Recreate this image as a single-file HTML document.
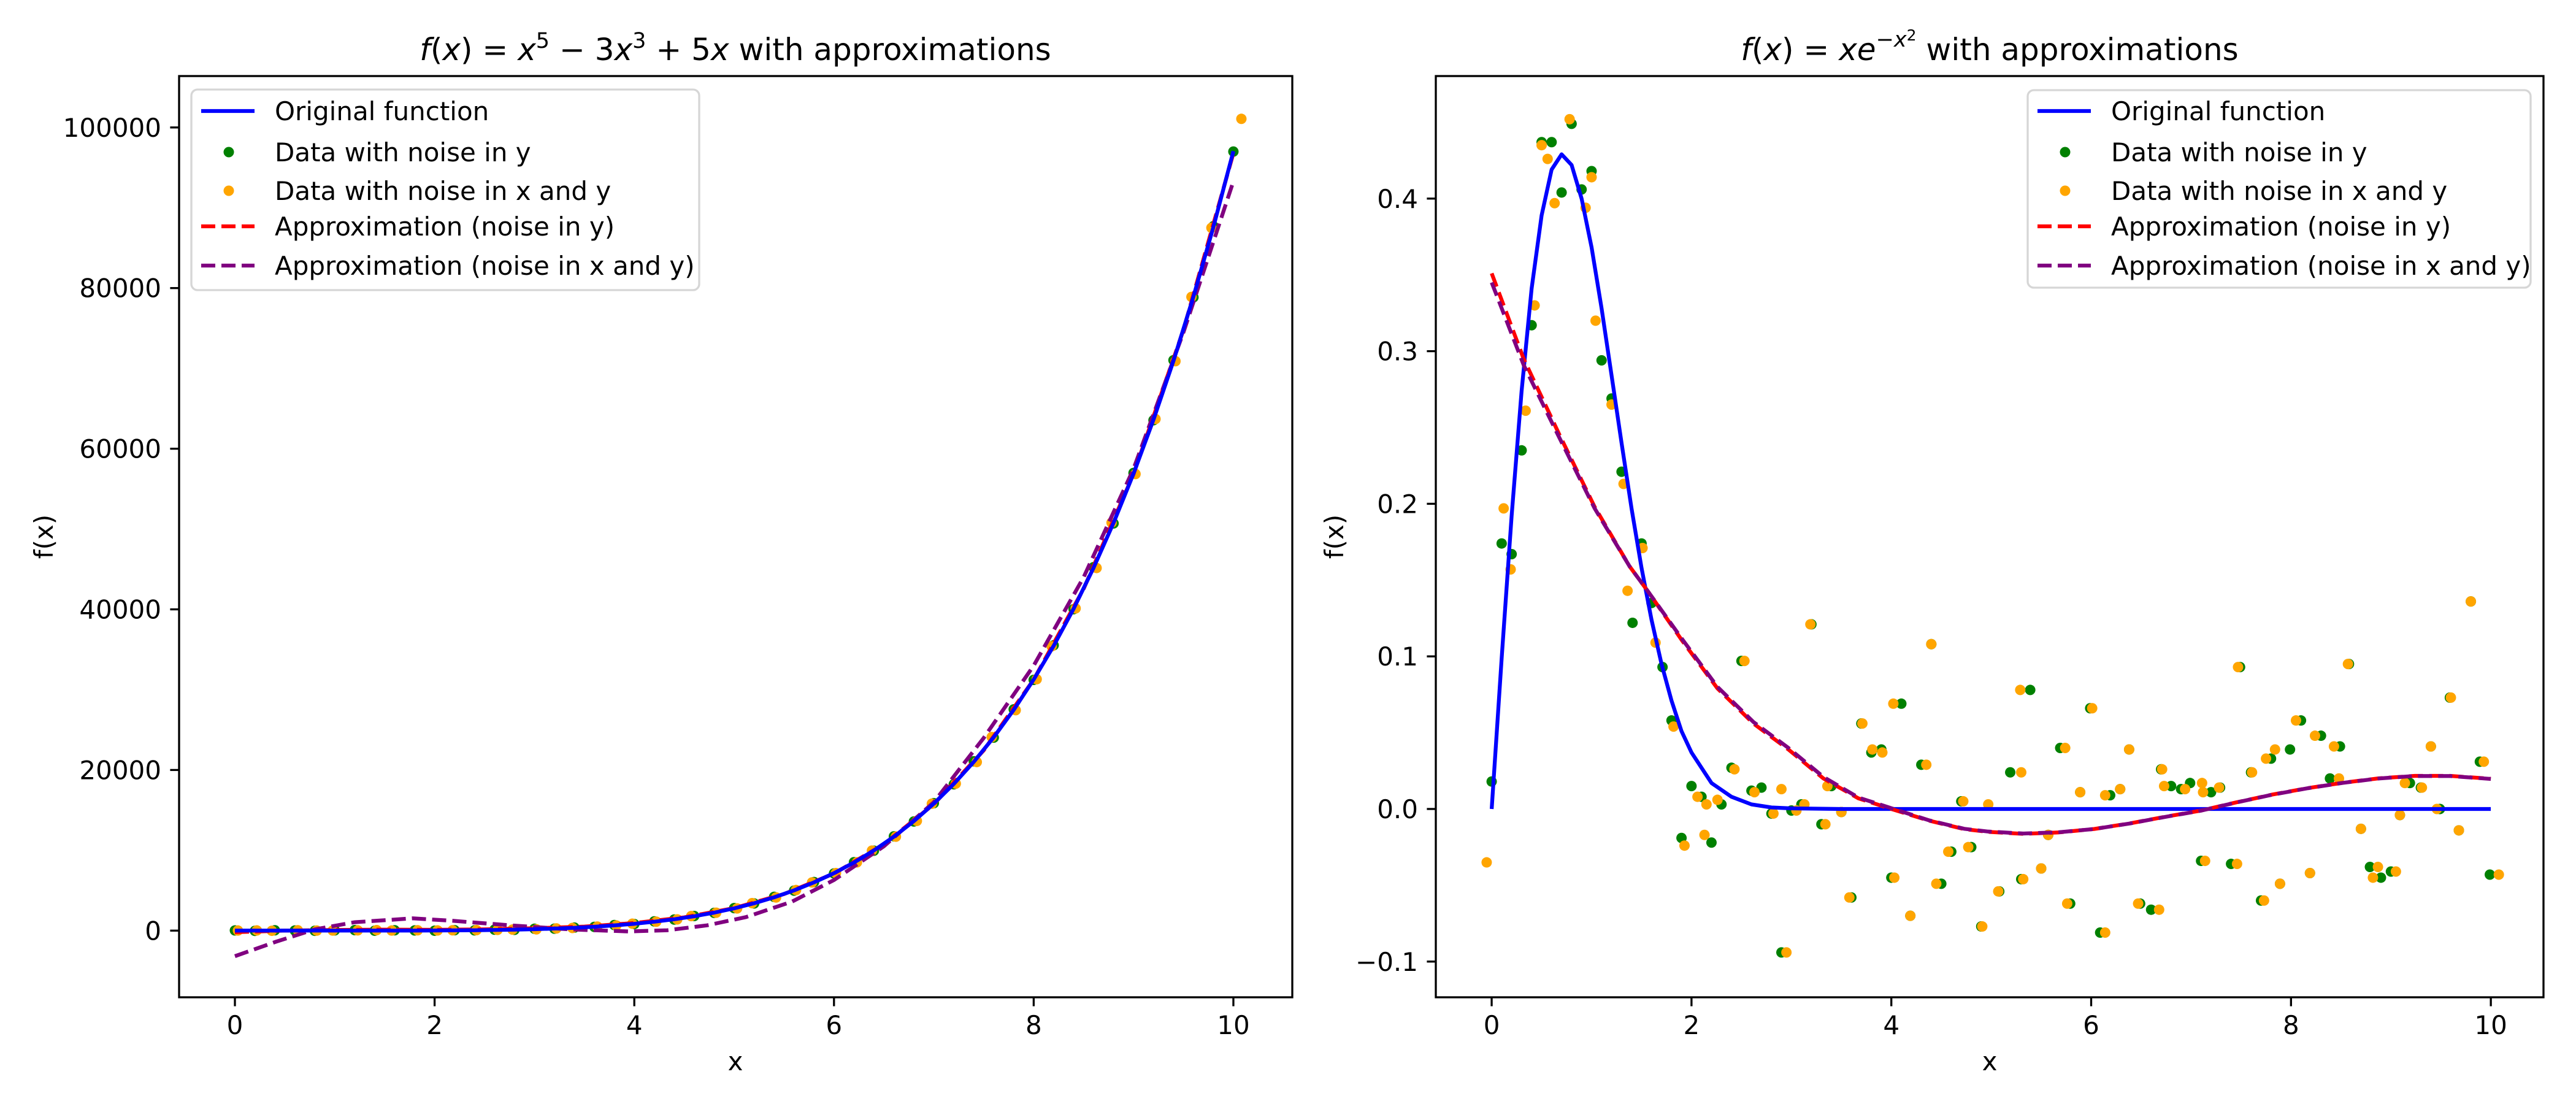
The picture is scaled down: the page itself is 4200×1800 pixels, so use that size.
<!DOCTYPE html>
<html><head><meta charset="utf-8"><style>
html,body{margin:0;padding:0;background:#fff;}
svg{display:block;font-family:"DejaVu Sans","Liberation Sans",sans-serif;}
</style></head><body>
<svg id="fig" xmlns="http://www.w3.org/2000/svg" width="4200" height="1800" viewBox="0 0 4200 1800">
<rect x="0" y="0" width="4200" height="1800" fill="#fff"/>
<g id="left-panel">
  <g id="L-marks"></g>
  <g id="L-axes"></g>
  <text x="1199" y="98" font-size="50" text-anchor="middle"><tspan font-style="italic">f</tspan>(<tspan font-style="italic">x</tspan>) = <tspan font-style="italic">x</tspan><tspan font-size="35" dy="-20">5</tspan><tspan dy="20"> − 3</tspan><tspan font-style="italic">x</tspan><tspan font-size="35" dy="-20">3</tspan><tspan dy="20"> + 5</tspan><tspan font-style="italic">x</tspan> with approximations</text>
  <text x="1199" y="1745" font-size="42" text-anchor="middle">x</text>
  <text transform="translate(86,875) rotate(-90)" font-size="42" text-anchor="middle">f(x)</text>
  <g>
    <rect x="312" y="146" width="828" height="327" rx="10" fill="#fff" fill-opacity="0.8" stroke="#d6d6d6" stroke-width="3.3"/>
    <line x1="328" y1="181" x2="415" y2="181" stroke="#0000ff" stroke-width="6.25"/>
    <text x="448" y="196" font-size="42">Original function</text>
    <circle cx="373" cy="248" r="8.5" fill="#008000"/>
    <text x="448" y="263" font-size="42">Data with noise in y</text>
    <circle cx="373" cy="311" r="8.5" fill="#ffa500"/>
    <text x="448" y="326" font-size="42">Data with noise in x and y</text>
    <line x1="328" y1="369" x2="415" y2="369" stroke="#ff0000" stroke-width="6.25" stroke-dasharray="23,10"/>
    <text x="448" y="384" font-size="42">Approximation (noise in y)</text>
    <line x1="328" y1="433" x2="415" y2="433" stroke="#800080" stroke-width="6.25" stroke-dasharray="23,10"/>
    <text x="448" y="448" font-size="42">Approximation (noise in x and y)</text>
  </g>
</g>
<g id="right-panel">
  <g id="R-marks"></g>
  <g id="R-axes"></g>
  <text x="3244" y="98" font-size="50" text-anchor="middle"><tspan font-style="italic">f</tspan>(<tspan font-style="italic">x</tspan>) = <tspan font-style="italic">xe</tspan><tspan font-size="35" dy="-22">−<tspan font-style="italic">x</tspan></tspan><tspan font-size="25" dy="-10">2</tspan><tspan dy="32"> with approximations</tspan></text>
  <text x="3244" y="1745" font-size="42" text-anchor="middle">x</text>
  <text transform="translate(2190,875) rotate(-90)" font-size="42" text-anchor="middle">f(x)</text>
  <g>
    <rect x="3306" y="147" width="820" height="322" rx="10" fill="#fff" fill-opacity="0.8" stroke="#d6d6d6" stroke-width="3.3"/>
    <line x1="3322" y1="181" x2="3409" y2="181" stroke="#0000ff" stroke-width="6.25"/>
    <text x="3442" y="196" font-size="42">Original function</text>
    <circle cx="3367" cy="248" r="8.5" fill="#008000"/>
    <text x="3442" y="263" font-size="42">Data with noise in y</text>
    <circle cx="3367" cy="311" r="8.5" fill="#ffa500"/>
    <text x="3442" y="326" font-size="42">Data with noise in x and y</text>
    <line x1="3322" y1="369" x2="3409" y2="369" stroke="#ff0000" stroke-width="6.25" stroke-dasharray="23,10"/>
    <text x="3442" y="384" font-size="42">Approximation (noise in y)</text>
    <line x1="3322" y1="433" x2="3409" y2="433" stroke="#800080" stroke-width="6.25" stroke-dasharray="23,10"/>
    <text x="3442" y="448" font-size="42">Approximation (noise in x and y)</text>
  </g>
</g>
</svg>
<script>
// ---------- LEFT CHART DATA ----------
const leftCurveX = [0,0.2,0.4,0.6,0.8,1.0,1.2,1.4,1.6,1.8,2.0,2.2,2.4,2.6,2.8,3.0,3.2,3.4,3.6,3.8,4.0,4.2,4.4,4.6,4.8,5.0,5.2,5.4,5.6,5.8,6.0,6.2,6.4,6.6,6.8,7.0,7.2,7.4,7.6,7.8,8.0,8.2,8.4,8.6,8.8,9.0,9.2,9.4,9.6,9.8,10.0];
const leftCurveY = [0,1,1.8,2.4,2.8,3,3.3,4.1,6.2,10.4,18,30.6,50,79,120,177,253,353,483,647,852,1106,1416,1791,2240,2775,3406,4146,5009,6007,7158,8477,9983,11694,13630,15813,18265,21011,24076,27487,31272,35460,40085,45178,50773,56907,63618,70946,78931,87618,97050];
const leftGreenY = [20,-30,40,10,-20,30,60,-10,40,20,-10,50,30,120,100,230,240,380,460,690,820,1150,1380,1820,2210,2800,3380,4200,4980,6050,7120,8520,9950,11740,13590,15870,18220,21080,24030,27550,31220,35520,40020,45250,50700,56980,63550,71020,78850,87700,97000];
const leftOrangeX = [0.03,0.22,0.37,0.63,0.82,0.98,1.23,1.42,1.57,1.83,2.03,2.18,2.42,2.63,2.78,3.02,3.22,3.38,3.63,3.82,3.98,4.22,4.43,4.57,4.82,5.03,5.18,5.42,5.62,5.78,6.02,6.23,6.38,6.62,6.83,6.98,7.22,7.43,7.58,7.82,8.03,8.18,8.42,8.63,8.78,9.02,9.22,9.42,9.58,9.78,10.08];
const leftOrangeY = [10,20,-20,40,0,10,30,60,10,40,20,40,60,90,130,160,270,330,500,640,860,1110,1400,1810,2230,2760,3420,4130,5050,6000,7160,8500,9960,11700,13660,15800,18300,20990,24100,27450,31300,35400,40120,45150,50800,56850,63700,70900,78900,87500,101070];
const leftRedX = [0,0.5,1,1.5,2,2.5,3,3.5,4,4.5,5,5.5,6,6.5,7,7.5,8,8.5,9,9.5,10];
const leftRedY = [-200,0,80,120,100,150,300,500,950,1650,2800,4550,7100,10750,15750,22450,31250,42550,56850,74800,96800];
const leftPurpleX = [0,0.41,0.8,1.2,1.78,2.18,2.76,3.35,3.94,4.33,4.73,5.12,5.58,6.0,6.5,7.0,7.5,8.0,8.5,9.0,9.5,10];
const leftPurpleY = [-3180,-1390,150,1050,1530,1220,660,150,-100,50,660,1690,3610,6300,10500,16000,24000,33000,44000,57500,74500,93300];
const leftXTicks = [0,2,4,6,8,10];
const leftXTickLabels = ["0","2","4","6","8","10"];
const leftYTicks = [0,20000,40000,60000,80000,100000];
const leftYTickLabels = ["0","20000","40000","60000","80000","100000"];

// ---------- RIGHT CHART DATA ----------
const rightCurveX = [0,0.1,0.2,0.3,0.4,0.5,0.6,0.7,0.8,0.9,1.0,1.1,1.2,1.3,1.4,1.5,1.6,1.7,1.8,1.9,2.0,2.2,2.4,2.6,2.8,3.0,3.5,10];
const rightCurveY = [0,0.099,0.192,0.274,0.341,0.389,0.419,0.429,0.422,0.400,0.368,0.328,0.284,0.240,0.197,0.158,0.124,0.095,0.071,0.051,0.037,0.017,0.008,0.003,0.001,0.0004,0,0];
const rightGreenX = [0,0.1,0.2,0.3,0.4,0.5,0.6,0.7,0.8,0.9,1.0,1.1,1.2,1.3,1.41,1.5,1.6,1.71,1.8,1.9,2.0,2.1,2.2,2.3,2.4,2.5,2.6,2.7,2.8,2.9,3.0,3.1,3.2,3.3,3.4,3.5,3.6,3.7,3.8,3.9,4.0,4.1,4.19,4.3,4.4,4.5,4.6,4.7,4.8,4.9,5.08,5.19,5.3,5.39,5.5,5.57,5.69,5.79,5.89,5.99,6.09,6.19,6.29,6.38,6.49,6.6,6.7,6.8,6.9,6.99,7.1,7.2,7.29,7.4,7.49,7.6,7.7,7.8,7.89,7.99,8.1,8.19,8.3,8.39,8.49,8.58,8.7,8.79,8.9,9.0,9.09,9.19,9.3,9.4,9.49,9.59,9.68,9.8,9.89,9.99];
const rightGreenY = [0.018,0.174,0.167,0.235,0.317,0.437,0.437,0.404,0.449,0.406,0.418,0.294,0.269,0.221,0.122,0.174,0.135,0.093,0.058,-0.019,0.015,0.008,-0.022,0.003,0.027,0.097,0.012,0.014,-0.003,-0.094,-0.001,0.003,0.121,-0.010,0.015,-0.002,-0.058,0.056,0.037,0.039,-0.045,0.069,-0.070,0.029,0.108,-0.049,-0.028,0.005,-0.025,-0.077,-0.054,0.024,-0.046,0.078,-0.039,-0.017,0.040,-0.062,0.011,0.066,-0.081,0.009,0.013,0.039,-0.062,-0.066,0.026,0.015,0.013,0.017,-0.034,0.011,0.014,-0.036,0.093,0.024,-0.060,0.033,-0.049,0.039,0.058,-0.042,0.048,0.020,0.041,0.095,-0.013,-0.038,-0.045,-0.041,-0.004,0.017,0.014,0.041,0.000,0.073,-0.014,0.136,0.031,-0.043];
const rightOrangeX = [-0.05,0.12,0.19,0.34,0.43,0.5,0.56,0.63,0.78,0.94,1.0,1.04,1.2,1.32,1.36,1.51,1.64,1.82,1.93,2.06,2.13,2.15,2.26,2.43,2.53,2.63,2.82,2.9,2.95,3.05,3.13,3.19,3.34,3.36,3.5,3.58,3.71,3.81,3.91,4.02,4.03,4.19,4.35,4.4,4.45,4.57,4.72,4.77,4.91,4.97,5.07,5.29,5.3,5.32,5.5,5.57,5.74,5.76,5.89,6.01,6.14,6.14,6.29,6.38,6.47,6.68,6.71,6.73,6.94,7.11,7.12,7.14,7.28,7.46,7.47,7.61,7.73,7.75,7.84,7.89,8.05,8.19,8.24,8.43,8.48,8.57,8.7,8.82,8.87,9.05,9.09,9.14,9.31,9.4,9.46,9.6,9.68,9.8,9.93,10.08];
const rightOrangeY = [-0.035,0.197,0.157,0.261,0.330,0.435,0.426,0.397,0.452,0.394,0.414,0.320,0.265,0.213,0.143,0.171,0.109,0.054,-0.024,0.008,-0.017,0.003,0.006,0.026,0.097,0.011,-0.003,0.013,-0.094,-0.001,0.003,0.121,-0.010,0.015,-0.002,-0.058,0.056,0.039,0.037,0.069,-0.045,-0.070,0.029,0.108,-0.049,-0.028,0.005,-0.025,-0.077,0.003,-0.054,0.078,0.024,-0.046,-0.039,-0.017,0.040,-0.062,0.011,0.066,-0.081,0.009,0.013,0.039,-0.062,-0.066,0.026,0.015,0.013,0.017,0.011,-0.034,0.014,-0.036,0.093,0.024,-0.060,0.033,0.039,-0.049,0.058,-0.042,0.048,0.041,0.020,0.095,-0.013,-0.045,-0.038,-0.041,-0.004,0.017,0.014,0.041,0.000,0.073,-0.014,0.136,0.031,-0.043];
const rightRedX = [0,0.32,0.68,1.03,1.38,1.56,1.91,2.26,2.62,2.97,3.32,3.67,4.0,4.38,4.73,4.97,5.32,5.67,6.03,6.39,6.74,7.10,7.45,7.81,8.17,8.52,8.88,9.24,9.59,10];
const rightRedY = [0.351,0.295,0.245,0.198,0.159,0.143,0.110,0.079,0.056,0.039,0.020,0.007,0,-0.0077,-0.0132,-0.015,-0.0163,-0.0154,-0.0131,-0.0094,-0.0051,-0.001,0.0043,0.0094,0.0137,0.0172,0.0201,0.0217,0.0217,0.0198];
const rightPurpleY = [0.345,0.291,0.243,0.197,0.159,0.143,0.111,0.080,0.057,0.040,0.021,0.0075,0.0005,-0.0075,-0.013,-0.0148,-0.0161,-0.0153,-0.0131,-0.0095,-0.0052,-0.0011,0.0042,0.0093,0.0136,0.0171,0.02,0.0216,0.0216,0.0197];
const rightXTicks = [0,2,4,6,8,10];
const rightXTickLabels = ["0","2","4","6","8","10"];
const rightYTicks = [-0.1,0,0.1,0.2,0.3,0.4];
const rightYTickLabels = ["\u22120.1","0.0","0.1","0.2","0.3","0.4"];

const NS = "http://www.w3.org/2000/svg";
function mk(tag, attrs, parent){
  const e = document.createElementNS(NS, tag);
  for (const k in attrs) e.setAttribute(k, attrs[k]);
  parent.appendChild(e);
  return e;
}
function makeAxes(box, xmin, xmax, ymin, ymax){
  return {
    sx: v => box.l + (v - xmin) / (xmax - xmin) * (box.r - box.l),
    sy: v => box.b - (v - ymin) / (ymax - ymin) * (box.b - box.t)
  };
}
function pathFrom(xs, ys, ax){
  let d = "";
  for (let i = 0; i < xs.length; i++) d += (i ? "L" : "M") + ax.sx(xs[i]).toFixed(1) + "," + ax.sy(ys[i]).toFixed(1);
  return d;
}
function drawPanel(prefix, marksG, axesG, box, ax, s, blueOnTop){
  const clipId = prefix + "-clip";
  const defs = mk("defs", {}, marksG);
  const cp = mk("clipPath", {id: clipId}, defs);
  mk("rect", {x: box.l, y: box.t, width: box.r - box.l, height: box.b - box.t}, cp);
  const g = mk("g", {"clip-path": "url(#" + clipId + ")"}, marksG);
  
  
  for (let i = 0; i < s.gx.length; i++) {
    const c = mk("circle", {cx: ax.sx(s.gx[i]), cy: ax.sy(s.gy[i]), r: 8.5, fill: "#008000"}, g);
    
    
  }
  for (let i = 0; i < s.ox.length; i++) {
    const c = mk("circle", {cx: ax.sx(s.ox[i]), cy: ax.sy(s.oy[i]), r: 8.5, fill: "#ffa500"}, g);
    
    
  }
  function drawBlue(){
    const blue = mk("path", {d: pathFrom(s.bx, s.by, ax), fill: "none", stroke: "#0000ff", "stroke-width": 6.25, "stroke-linejoin": "round"}, g);
    
    
  }
  if (!blueOnTop) drawBlue();
  const red = mk("path", {d: pathFrom(s.rx, s.ry, ax), fill: "none", stroke: "#ff0000", "stroke-width": 6.25, "stroke-dasharray": "23,10"}, g);
  
  
  const pur = mk("path", {d: pathFrom(s.px, s.py, ax), fill: "none", stroke: "#800080", "stroke-width": 6.25, "stroke-dasharray": "23,10"}, g);
  
  
  if (blueOnTop) drawBlue();

  const frame = mk("rect", {x: box.l, y: box.t, width: box.r - box.l, height: box.b - box.t, fill: "none", stroke: "#000", "stroke-width": 3.3}, axesG);
  
  
  for (let i = 0; i < s.xt.length; i++) {
    const x = ax.sx(s.xt[i]);
    const t = mk("line", {x1: x, y1: box.b, x2: x, y2: box.b + 14.6, stroke: "#000", "stroke-width": 3.3}, axesG);
    
    
    const l = mk("text", {x: x, y: box.b + 60, "font-size": 42, "text-anchor": "middle"}, axesG);
    l.textContent = s.xl[i];
    
    
  }
  for (let i = 0; i < s.yt.length; i++) {
    const y = ax.sy(s.yt[i]);
    const t = mk("line", {x1: box.l - 14.6, y1: y, x2: box.l, y2: y, stroke: "#000", "stroke-width": 3.3}, axesG);
    
    
    const l = mk("text", {x: box.l - 29, y: y + 15, "font-size": 42, "text-anchor": "end"}, axesG);
    l.textContent = s.yl[i];
    
    
  }
}
const Lbox = {l: 292, r: 2107, t: 124, b: 1626};
const Lax = makeAxes(Lbox, -0.559, 10.59, -8300, 106400);
drawPanel("left", document.getElementById("L-marks"), document.getElementById("L-axes"), Lbox, Lax, {
  gx: leftCurveX, gy: leftGreenY, ox: leftOrangeX, oy: leftOrangeY,
  bx: leftCurveX, by: leftCurveY, rx: leftRedX, ry: leftRedY, px: leftPurpleX, py: leftPurpleY,
  xt: leftXTicks, xl: leftXTickLabels, yt: leftYTicks, yl: leftYTickLabels
}, true);
const Rbox = {l: 2341, r: 4147, t: 124, b: 1626};
const Rax = makeAxes(Rbox, -0.559, 10.527, -0.1234, 0.4803);
drawPanel("right", document.getElementById("R-marks"), document.getElementById("R-axes"), Rbox, Rax, {
  gx: rightGreenX, gy: rightGreenY, ox: rightOrangeX, oy: rightOrangeY,
  bx: rightCurveX, by: rightCurveY, rx: rightRedX, ry: rightRedY, px: rightRedX, py: rightPurpleY,
  xt: rightXTicks, xl: rightXTickLabels, yt: rightYTicks, yl: rightYTickLabels
}, false);
</script>
</body></html>
